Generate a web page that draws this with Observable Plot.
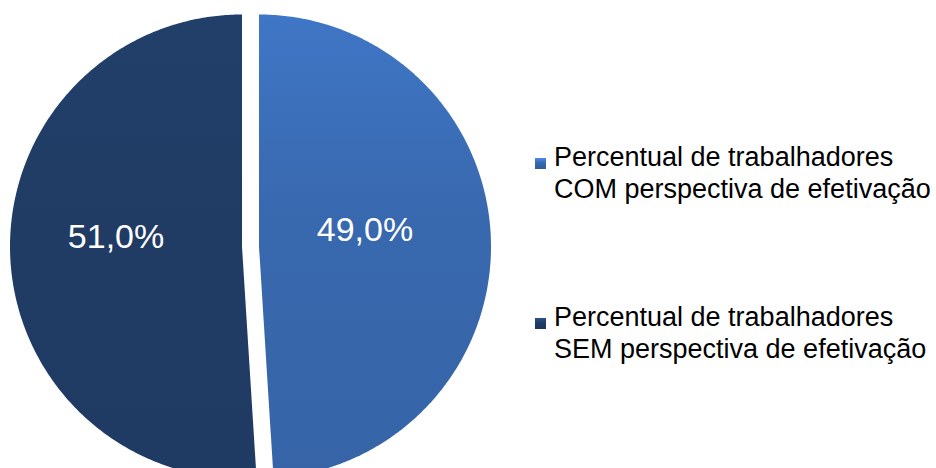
<!DOCTYPE html>
<html><head><meta charset="utf-8">
<script src="https://cdn.jsdelivr.net/npm/d3@7"></script>
<script src="https://cdn.jsdelivr.net/npm/@observablehq/plot@0.6"></script>
<style>
html,body{margin:0;padding:0;background:#fff;}
#wrap{position:relative;width:936px;height:468px;overflow:hidden;font-family:"Liberation Sans",Arial,sans-serif;}
#chart{position:absolute;left:0;top:0;}
.leg{position:absolute;left:535px;font-size:27px;line-height:32px;color:#000;white-space:nowrap;}
.sw{position:absolute;width:11px;height:11px;}
.lt{position:absolute;left:19px;top:0;}
</style></head>
<body><div id="wrap"><div id="chart"></div></div>
<script>
const categories = ["Percentual de trabalhadores COM perspectiva de efetivação", "Percentual de trabalhadores SEM perspectiva de efetivação"];
const legendLines = [["Percentual de trabalhadores", "COM perspectiva de efetivação"], ["Percentual de trabalhadores", "SEM perspectiva de efetivação"]];
const values = [49.0, 51.0];
const valueLabels = ["49,0%", "51,0%"];
const colors = ["#3868ae", "#203c65"];

const W = 500, H = 468, R = 232, CX = 250, CY = 246, EXPLODE = 8.5;
const data = categories.map((c, i) => ({category: c, value: values[i], label: valueLabels[i]}));
const arcs = d3.pie().sort(null).value(d => d.value)(data);

const pts = [];
const labs = [];
const off = EXPLODE / R;
arcs.forEach(a => {
  const mid = (a.startAngle + a.endAngle) / 2;
  const ox = Math.sign(Math.sin(mid)) * off, oy = 0;
  pts.push({category: a.data.category, x: ox, y: oy});
  const n = Math.max(2, Math.ceil((a.endAngle - a.startAngle) / 0.01));
  for (let k = 0; k <= n; k++) {
    const t = a.startAngle + (a.endAngle - a.startAngle) * k / n;
    pts.push({category: a.data.category, x: ox + Math.sin(t), y: oy + Math.cos(t)});
  }
  pts.push({category: a.data.category, x: ox, y: oy});
  labs.push({label: a.data.label, x: ox + 0.5 * Math.sin(mid), y: oy + 0.5 * Math.cos(mid) + 0.055});
});

const gradIds = colors.map((c, i) => "slicegrad" + i);

const plot = Plot.plot({
  width: W, height: H,
  margin: 0,
  x: {domain: [-CX / R, (W - CX) / R], axis: null},
  y: {domain: [-(H - CY) / R, CY / R], axis: null},
  color: {domain: categories, range: gradIds.map(id => `url(#${id})`)},
  style: {background: "transparent"},
  marks: [
    Plot.line(pts, {x: "x", y: "y", z: "category", fill: "category", stroke: "none", curve: "linear"}),
    Plot.text(labs, {x: "x", y: "y", text: "label", fill: "white", fontSize: 34, dx: -10, fontFamily: "Liberation Sans, Arial, sans-serif"})
  ]
});

const ns = "http://www.w3.org/2000/svg";
const defs = document.createElementNS(ns, "defs");
colors.forEach((c, i) => {
  const g = document.createElementNS(ns, "linearGradient");
  g.setAttribute("id", gradIds[i]);
  g.setAttribute("x1", "0"); g.setAttribute("y1", "0");
  g.setAttribute("x2", "0"); g.setAttribute("y2", "1");
  const stops = i === 0
    ? [[0, d3.color(c).brighter(0.35)], [0.45, c], [1, d3.color(c).darker(0.12)]]
    : [[0, d3.color(c).brighter(0.12)], [0.45, c], [1, d3.color(c).darker(0.05)]];
  stops.forEach(([o, col]) => {
    const s = document.createElementNS(ns, "stop");
    s.setAttribute("offset", o);
    s.setAttribute("stop-color", String(col));
    g.appendChild(s);
  });
  defs.appendChild(g);
});
plot.insertBefore(defs, plot.firstChild);
document.getElementById("chart").appendChild(plot);

const wrap = document.getElementById("wrap");
const tops = [141, 301];
legendLines.forEach((lines, i) => {
  const d = document.createElement("div");
  d.className = "leg";
  d.style.top = tops[i] + "px";
  const sw = document.createElement("div");
  sw.className = "sw";
  sw.style.top = "17px";
  sw.style.left = "0px";
  sw.style.background = `linear-gradient(${d3.color(colors[i]).brighter(0.8)}, ${colors[i]} 45%, ${d3.color(colors[i]).darker(0.3)})`;
  d.appendChild(sw);
  const t = document.createElement("div");
  t.className = "lt";
  t.innerHTML = lines.join("<br>");
  d.appendChild(t);
  wrap.appendChild(d);
});
</script></body></html>
